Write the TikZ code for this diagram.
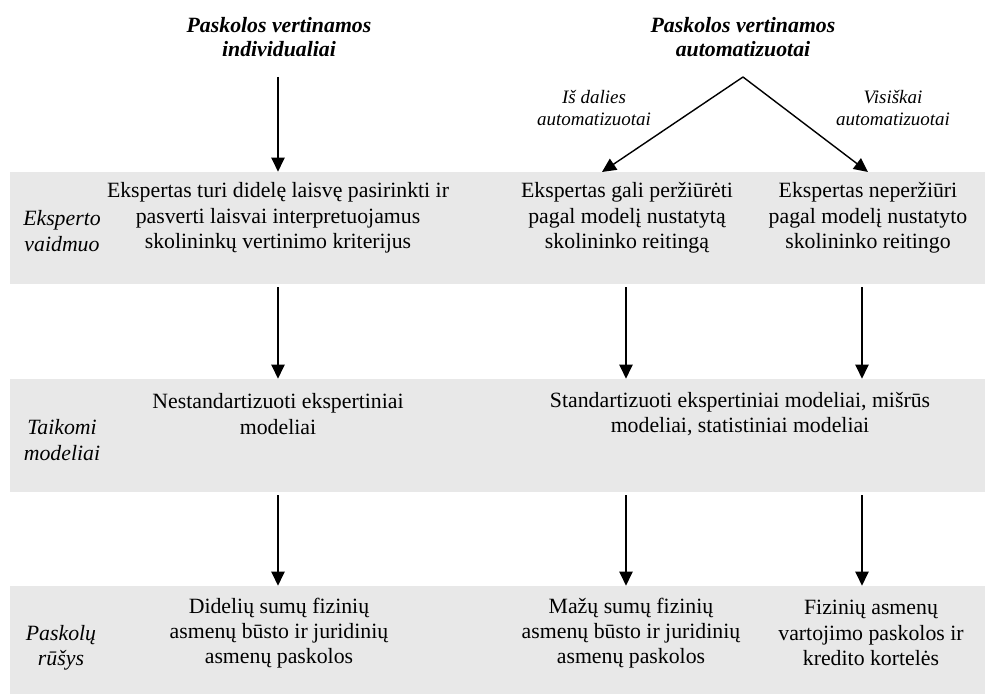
\documentclass[tikz,border=0pt]{standalone}
\usepackage{fontspec}
\setmainfont{Liberation Serif}
\usetikzlibrary{arrows.meta,positioning}
\definecolor{bandgray}{RGB}{232,232,232}

\begin{document}
\begin{tikzpicture}[x=0.025cm, y=-0.025cm]
 \tikzset{
band/.style = {rectangle, fill=bandgray, minimum width=24.375cm, inner sep=0pt},
cell/.style = {align=center, inner sep=0pt, font=\fontsize{15.5}{18}\selectfont},
rowlabel/.style = {align=center, inner sep=0pt, font=\fontsize{15.5}{18}\selectfont\itshape},
title/.style = {align=center, inner sep=0pt, font=\fontsize{15.5}{17}\selectfont\bfseries\itshape},
branch/.style = {align=center, inner sep=0pt, font=\fontsize{13.5}{16.3}\selectfont\itshape},
arr/.style = {line width=1pt, -{Triangle[width=3.3mm,length=3.5mm]}}}

\useasboundingbox (0,0) rectangle (989,694);

      % bands
      \node [band, minimum height=2.8cm] (Band1) at (497.5,228) {};
      \node [band, minimum height=2.825cm] (Band2) at (497.5,435.5) {};
      \node [band, minimum height=2.7cm] (Band3) at (497.5,640) {};

      % headings
      \node [title] (Title1) at (279,37) {Paskolos vertinamos\\individualiai};
      \node [title] (Title2) at (743,37) {Paskolos vertinamos\\automatizuotai};
      \node [branch] (Part) at (594,108) {Iš dalies\\automatizuotai};
      \node [branch] (Full) at (893,108) {Visiškai\\automatizuotai};

      % row labels
      \node [rowlabel] (RowE) at (62,231) {Eksperto\\vaidmuo};
      \node [rowlabel] (RowM) at (62,440) {Taikomi\\modeliai};
      \node [rowlabel] (RowL) at (61,648) {Paskolų\\rūšys};

      % cells
      \node [cell] (E1) at (278,218) {Ekspertas turi didelę laisvę pasirinkti ir\\pasverti laisvai interpretuojamus\\skolininkų vertinimo kriterijus};
      \node [cell] (E2) at (627,218) {Ekspertas gali peržiūrėti\\pagal modelį nustatytą\\skolininko reitingą};
      \node [cell] (E3) at (868,218) {Ekspertas neperžiūri\\pagal modelį nustatyto\\skolininko reitingo};
      \node [cell] (M1) at (278,414) {Nestandartizuoti ekspertiniai\\modeliai};
      \node [cell] (M2) at (740,414) {Standartizuoti ekspertiniai modeliai, mišrūs\\modeliai, statistiniai modeliai};
      \node [cell] (L1) at (279,633) {Didelių sumų fizinių\\asmenų būsto ir juridinių\\asmenų paskolos};
      \node [cell] (L2) at (631,633) {Mažų sumų fizinių\\asmenų būsto ir juridinių\\asmenų paskolos};
      \node [cell] (L3) at (871,633) {Fizinių asmenų\\vartojimo paskolos ir\\kredito kortelės};

      \coordinate (C1) at (278,0);
      \coordinate (C2) at (626,0);
      \coordinate (C3) at (862,0);
      \coordinate (Top1) at (278,77);
      \coordinate (Split) at (743,77);
      \coordinate (SplitL) at (602,172);
      \coordinate (SplitR) at (868,172);

      \draw [arr] (Top1) -- (C1 |- Band1.north);
      \draw [arr] (Split) -- (SplitL);
      \draw [arr] (Split) -- (SplitR);

      \draw [arr] ([yshift=-2pt]C1 |- Band1.south) -- (C1 |- Band2.north);
      \draw [arr] ([yshift=-2pt]C2 |- Band1.south) -- (C2 |- Band2.north);
      \draw [arr] ([yshift=-2pt]C3 |- Band1.south) -- (C3 |- Band2.north);
      \draw [arr] ([yshift=-2pt]C1 |- Band2.south) -- (C1 |- Band3.north);
      \draw [arr] ([yshift=-2pt]C2 |- Band2.south) -- (C2 |- Band3.north);
      \draw [arr] ([yshift=-2pt]C3 |- Band2.south) -- (C3 |- Band3.north);

  \end{tikzpicture}
\end{document}
